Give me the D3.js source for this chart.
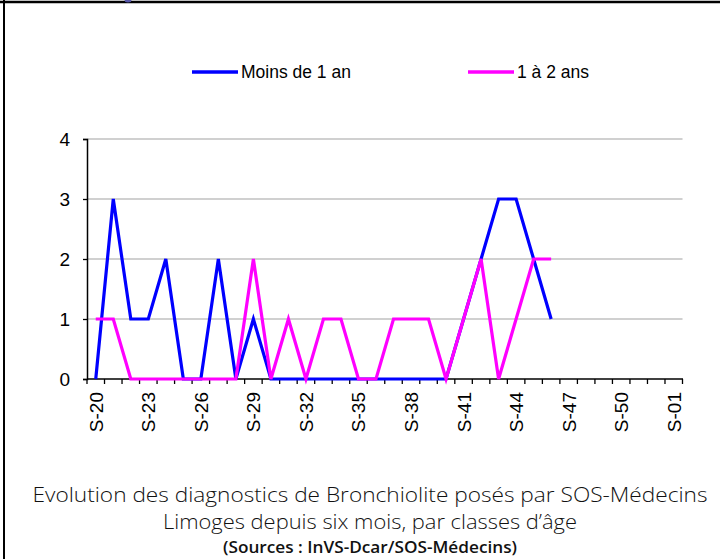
<!DOCTYPE html>
<html><head><meta charset="utf-8">
<script src="https://cdn.jsdelivr.net/npm/d3@7"></script>
<style>html,body{margin:0;padding:0;background:#fff;overflow:hidden}</style>
</head><body>
<script>
const weeks = ["S-20","S-21","S-22","S-23","S-24","S-25","S-26","S-27","S-28","S-29","S-30","S-31","S-32","S-33","S-34","S-35","S-36","S-37","S-38","S-39","S-40","S-41","S-42","S-43","S-44","S-45","S-46","S-47","S-48","S-49","S-50","S-51","S-52","S-01"];
const moinsDe1An = [0,3,1,1,2,0,0,2,0,1,0,0,0,0,0,0,0,0,0,0,0,1,2,3,3,2,1,null,null,null,null,null,null,null];
const unA2Ans   = [1,1,0,0,0,0,0,0,0,2,0,1,0,1,1,0,0,1,1,1,0,1,2,0,1,2,2,null,null,null,null,null,null,null];
const seriesNames = ["Moins de 1 an","1 à 2 ans"];
const seriesColors = ["#0000ff","#ff00ff"];
const yTicks = [0,1,2,3,4];
const xLabelWeeks = ["S-20","S-23","S-26","S-29","S-32","S-35","S-38","S-41","S-44","S-47","S-50","S-01"];
const titleLines = ["Evolution des diagnostics de Bronchiolite posés par SOS-Médecins","Limoges depuis six mois, par classes d’âge","(Sources : InVS-Dcar/SOS-Médecins)"];

const W = 720, H = 559;
const svg = d3.select("body").append("svg").attr("width", W).attr("height", H);

// frame
svg.append("line").attr("x1",0).attr("x2",W).attr("y1",2).attr("y2",2).attr("stroke","#000").attr("stroke-width",2.5);
svg.append("line").attr("x1",4).attr("x2",4).attr("y1",0).attr("y2",H).attr("stroke","#000").attr("stroke-width",2);
svg.append("ellipse").attr("cx",128).attr("cy",0).attr("rx",3.5).attr("ry",2.5).attr("fill","#5656a8");

const x = d3.scaleBand().domain(weeks).range([87, 682.5]).padding(0);
const y = d3.scaleLinear().domain([0,4]).range([379, 139]);
const cx = d => x(d) + x.bandwidth()/2;

// gridlines
svg.append("g").selectAll("line").data(yTicks.filter(t=>t>0)).join("line")
  .attr("x1",87).attr("x2",682.5).attr("y1",d=>y(d)).attr("y2",d=>y(d))
  .attr("stroke","#c0c0c0").attr("stroke-width",1.5);

// y axis
const yAxis = svg.append("g").attr("transform","translate(87,0)")
  .call(d3.axisLeft(y).tickValues(yTicks).tickSize(4).tickPadding(13).tickFormat(d3.format("d")));
yAxis.select(".domain").attr("stroke","#000").attr("stroke-width",1.5);
yAxis.selectAll(".tick line").attr("stroke","#000").attr("stroke-width",1.3);
yAxis.selectAll("text").attr("font-family","Liberation Sans, Arial, sans-serif").attr("font-size",19).attr("fill","#000");

// x axis
const xAxisG = svg.append("g").attr("transform","translate(0,379)");
xAxisG.append("line").attr("x1",87).attr("x2",683).attr("y1",0).attr("y2",0).attr("stroke","#000").attr("stroke-width",1.5);
const bounds = weeks.map(w => x(w)).concat([x(weeks[weeks.length-1]) + x.bandwidth()]);
xAxisG.selectAll("line.tk").data(bounds).join("line").attr("class","tk")
  .attr("x1",d=>d).attr("x2",d=>d).attr("y1",0).attr("y2",5).attr("stroke","#000").attr("stroke-width",1.3);
xAxisG.selectAll("text").data(xLabelWeeks).join("text")
  .attr("transform", d => `translate(${cx(d)+7},13) rotate(-90)`)
  .attr("text-anchor","end")
  .attr("font-family","Liberation Sans, Arial, sans-serif").attr("font-size",19)
  .attr("fill","#000").text(d=>d);

// lines
const series = [moinsDe1An, unA2Ans];
const line = d3.line().defined(d => d.v != null).x(d => cx(d.w)).y(d => y(d.v));
series.forEach((vals, i) => {
  const data = weeks.map((w, j) => ({w, v: vals[j]}));
  svg.append("path").datum(data).attr("d", line).attr("fill","none")
    .attr("stroke", seriesColors[i]).attr("stroke-width",3.2).attr("stroke-linejoin","miter");
});

// legend
const legendX = [192, 468];
seriesNames.forEach((n, i) => {
  svg.append("line").attr("x1",legendX[i]).attr("x2",legendX[i]+46).attr("y1",72).attr("y2",72)
    .attr("stroke",seriesColors[i]).attr("stroke-width",3.5);
  svg.append("text").attr("x",legendX[i]+49).attr("y",78)
    .attr("font-family","Liberation Sans, Arial, sans-serif").attr("font-size",17.5).attr("fill","#000")
    .text(n);
});

// title
const tspec = [{y:502, size:21, w:675, weight:300},{y:529, size:21, w:414, weight:300},{y:553, size:17, w:294, weight:600}];
titleLines.forEach((t, i) => {
  svg.append("text").attr("x",370).attr("y",tspec[i].y).attr("text-anchor","middle")
    .attr("font-family","Open Sans, sans-serif").attr("font-weight",tspec[i].weight)
    .attr("font-size",tspec[i].size).attr("fill","#111")
    .attr("textLength",tspec[i].w).attr("lengthAdjust","spacingAndGlyphs")
    .text(t);
});
</script>
</body></html>
